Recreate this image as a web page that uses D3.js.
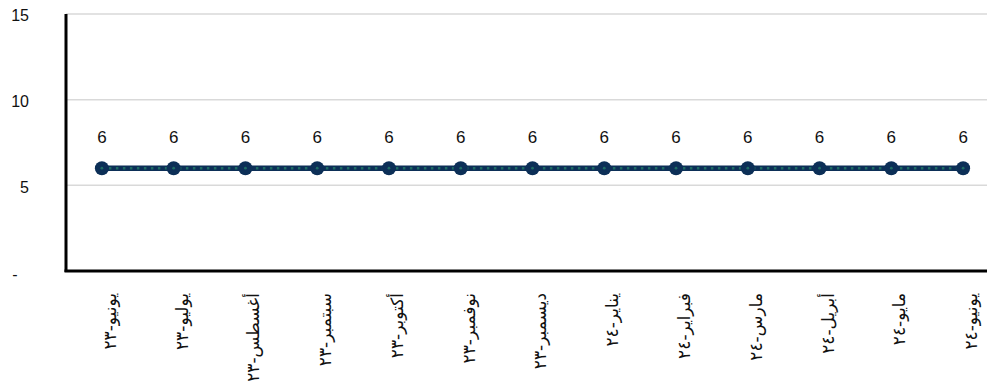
<!DOCTYPE html>
<html>
<head>
<meta charset="utf-8">
<script src="https://cdn.jsdelivr.net/npm/d3@7"></script>
<style>
  body { margin: 0; background: #fff; }
  text { font-family: "Liberation Sans", Arial, sans-serif; fill: #111; }
</style>
</head>
<body>
<svg width="987" height="385"></svg>
<script>
const months = ["يونيو-٢٣", "يوليو-٢٣", "أغسطس-٢٣", "سبتمبر-٢٣", "أكتوبر-٢٣", "نوفمبر-٢٣", "ديسمبر-٢٣",
                "يناير-٢٤", "فبراير-٢٤", "مارس-٢٤", "أبريل-٢٤", "مايو-٢٤", "يونيو-٢٤"]
const values = [6, 6, 6, 6, 6, 6, 6, 6, 6, 6, 6, 6, 6]
const yTicks = [0, 5, 10, 15]

const svg = d3.select("svg"),
      margin = {top: 14, right: -12, bottom: 114, left: 66},
      width = +svg.attr("width") - margin.left - margin.right,
      height = +svg.attr("height") - margin.top - margin.bottom,
      g = svg.append("g").attr("transform", "translate(" + margin.left + "," + margin.top + ")")

const x = d3.scaleBand().domain(months).range([0, width]),
      y = d3.scaleLinear().domain([0, 15]).range([height, 0])

// gridlines
g.selectAll(".grid")
  .data(yTicks)
  .enter().append("line")
    .attr("x1", 0).attr("x2", width)
    .attr("y1", d => y(d)).attr("y2", d => y(d))
    .style("stroke", "#d9d9d9").style("stroke-width", 1.5)

// y axis labels, "-" for zero like the accounting format
const yAxis = g.append("g")
  .call(d3.axisLeft(y).tickValues(yTicks).tickSize(0).tickPadding(37)
    .tickFormat(d => d === 0 ? "-" : d))
yAxis.select(".domain").remove()
yAxis.selectAll("text").style("font-size", "16px").attr("dy", "0.42em")
yAxis.selectAll("text").filter(d => d === 0)
  .attr("text-anchor", "middle").attr("x", -51).attr("dy", "0.55em")

// axis lines
g.append("line").attr("x1", 0).attr("x2", 0).attr("y1", 0).attr("y2", height + 1)
  .style("stroke", "#000").style("stroke-width", 3)
g.append("line").attr("x1", -1.5).attr("x2", width).attr("y1", height).attr("y2", height)
  .style("stroke", "#000").style("stroke-width", 3)

// x labels, rotated
const xAxis = g.append("g")
  .attr("transform", "translate(0," + height + ")")
  .call(d3.axisBottom(x).tickSize(0).tickPadding(0))
xAxis.select(".domain").remove()
xAxis.selectAll("text")
  .style("font-size", "17px")
  .style("font-family", "'DejaVu Sans', sans-serif")
  .attr("text-anchor", "end")
  .attr("transform", "translate(8,22) rotate(-90)")
  .attr("y", 0).attr("x", 0).attr("dy", "0.35em")

const cx = d => x(d) + x.bandwidth() / 2
const line = d3.line().x((d, i) => cx(months[i])).y(d => y(d))

g.append("path").datum(values)
  .attr("d", line)
  .style("fill", "none").style("stroke", "#0c2f57").style("stroke-width", 5.5)
g.append("path").datum(values)
  .attr("d", line)
  .style("fill", "none").style("stroke", "#1d6b63").style("stroke-width", 2.5)
  .style("stroke-dasharray", "2.5,4.5")

g.selectAll(".dot")
  .data(values)
  .enter().append("circle")
    .attr("cx", (d, i) => cx(months[i]))
    .attr("cy", d => y(d))
    .attr("r", 7)
    .style("fill", "#0c2f57")
g.selectAll(".dotc")
  .data(values)
  .enter().append("circle")
    .attr("cx", (d, i) => cx(months[i]))
    .attr("cy", d => y(d))
    .attr("r", 1.4)
    .style("fill", "#1d6b63")

g.selectAll(".lbl")
  .data(values)
  .enter().append("text")
    .attr("x", (d, i) => cx(months[i]))
    .attr("y", d => y(d) - 25)
    .attr("text-anchor", "middle")
    .style("font-size", "17px")
    .text(d => d)
</script>
</body>
</html>
